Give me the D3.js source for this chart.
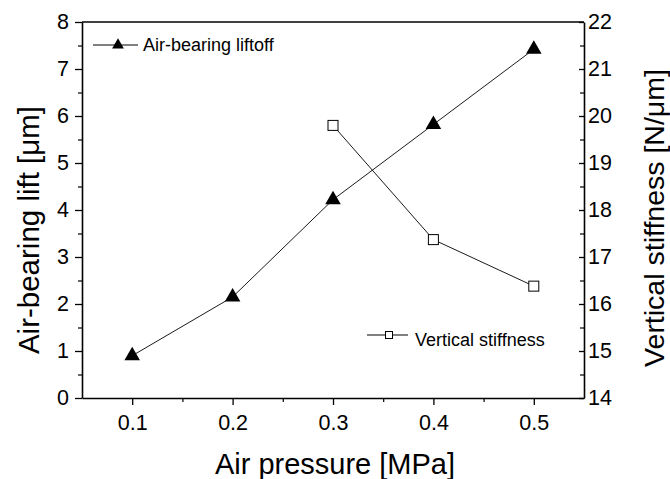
<!DOCTYPE html>
<html><head><meta charset="utf-8">
<script src="https://cdn.jsdelivr.net/npm/d3@7"></script>
<style>body{margin:0;background:#fff}svg{display:block}text{font-family:"Liberation Sans",Arial,sans-serif}</style>
</head><body>
<svg id="c" width="670" height="479"></svg>
<script>
const pressure = [0.1, 0.2, 0.3, 0.4, 0.5];
const liftoff = [0.9, 2.15, 4.22, 5.82, 7.42];
const stiffPressure = [0.3, 0.4, 0.5];
const stiffness = [19.8, 17.37, 16.38];
const xTicks = [0.1, 0.2, 0.3, 0.4, 0.5];
const yLeftTicks = [0,1,2,3,4,5,6,7,8];
const yRightTicks = [14,15,16,17,18,19,20,21,22];

const svg = d3.select("#c");
const L = 82, R = 584, T = 22, B = 398;
const x = d3.scaleLinear().domain([0.05, 0.55]).range([L, R]);
const yl = d3.scaleLinear().domain([0, 8]).range([B, T]);
const yr = d3.scaleLinear().domain([14, 22]).range([B, T]);

// top frame line
svg.append("line").attr("x1",L).attr("x2",R).attr("y1",T).attr("y2",T).attr("stroke","#000").attr("stroke-width",1.6);

function styleAxis(g){
  g.select(".domain").attr("stroke-width",1.6);
  g.selectAll(".tick line").attr("stroke-width",1.3);
  g.selectAll(".tick text").attr("font-size",21.5).attr("fill","#000");
}
// minor ticks
const xMinor = d3.range(0.15, 0.55, 0.1);
const ylMinor = d3.range(0.5, 8, 1);
const gxm = svg.append("g").attr("transform",`translate(0,${B})`)
  .call(d3.axisBottom(x).tickValues(xMinor).tickSize(4).tickFormat(""));
gxm.select(".domain").remove();
gxm.selectAll(".tick line").attr("stroke-width",1.2);
const gylm = svg.append("g").attr("transform",`translate(${L},0)`)
  .call(d3.axisLeft(yl).tickValues(ylMinor).tickSize(4).tickFormat(""));
gylm.select(".domain").remove();
gylm.selectAll(".tick line").attr("stroke-width",1.2);
const gyrm = svg.append("g").attr("transform",`translate(${R},0)`)
  .call(d3.axisRight(yl).tickValues(ylMinor).tickSize(-4).tickFormat(""));
gyrm.select(".domain").remove();
gyrm.selectAll(".tick line").attr("stroke-width",1.2);

const gx = svg.append("g").attr("transform",`translate(0,${B})`)
  .call(d3.axisBottom(x).tickValues(xTicks).tickSize(7).tickSizeOuter(0).tickPadding(10).tickFormat(d3.format(".1f")));
styleAxis(gx);
const gyl = svg.append("g").attr("transform",`translate(${L},0)`)
  .call(d3.axisLeft(yl).tickValues(yLeftTicks).tickSize(7).tickSizeOuter(0).tickPadding(6).tickFormat(d3.format("d")));
styleAxis(gyl);
const gyr = svg.append("g").attr("transform",`translate(${R},0)`)
  .call(d3.axisRight(yr).tickValues(yRightTicks).tickSize(-5).tickSizeOuter(0).tickPadding(4).tickFormat(d3.format("d")));
styleAxis(gyr);

// axis titles
svg.append("text").attr("x",335).attr("y",474).attr("text-anchor","middle").attr("font-size",29).text("Air pressure [MPa]");
svg.append("text").attr("transform","translate(39,230) rotate(-90)").attr("text-anchor","middle").attr("font-size",29.5).text("Air-bearing lift [μm]");
svg.append("text").attr("transform","translate(664,218) rotate(-90)").attr("text-anchor","middle").attr("font-size",28.5).text("Vertical stiffness [N/μm]");

// series
const line1 = d3.line().x((d,i)=>x(pressure[i])).y(d=>yl(d));
svg.append("path").attr("d",line1(liftoff)).attr("fill","none").attr("stroke","#000").attr("stroke-width",0.9);
const tri = d3.symbol().type(d3.symbolTriangle).size(105);
svg.selectAll(".tri").data(liftoff).enter().append("path")
  .attr("transform",(d,i)=>`translate(${x(pressure[i])},${yl(d)})`).attr("d",tri).attr("fill","#000");

const line2 = d3.line().x((d,i)=>x(stiffPressure[i])).y(d=>yr(d));
svg.append("path").attr("d",line2(stiffness)).attr("fill","none").attr("stroke","#000").attr("stroke-width",0.9);
svg.selectAll(".sq").data(stiffness).enter().append("rect")
  .attr("x",(d,i)=>x(stiffPressure[i])-5).attr("y",d=>yr(d)-5).attr("width",10).attr("height",10)
  .attr("fill","#fff").attr("stroke","#000").attr("stroke-width",1);

// legends
const triL = d3.symbol().type(d3.symbolTriangle).size(60);
svg.append("line").attr("x1",93).attr("x2",138).attr("y1",45).attr("y2",45).attr("stroke","#000");
svg.append("path").attr("transform","translate(118,45)").attr("d",triL).attr("fill","#000");
svg.append("text").attr("x",143).attr("y",51).attr("font-size",18).text("Air-bearing liftoff");
svg.append("line").attr("x1",367).attr("x2",408).attr("y1",335).attr("y2",335).attr("stroke","#000");
svg.append("rect").attr("x",385.5).attr("y",331.5).attr("width",7).attr("height",7).attr("fill","#fff").attr("stroke","#000");
svg.append("text").attr("x",415).attr("y",346).attr("font-size",18).text("Vertical stiffness");
</script>
</body></html>
